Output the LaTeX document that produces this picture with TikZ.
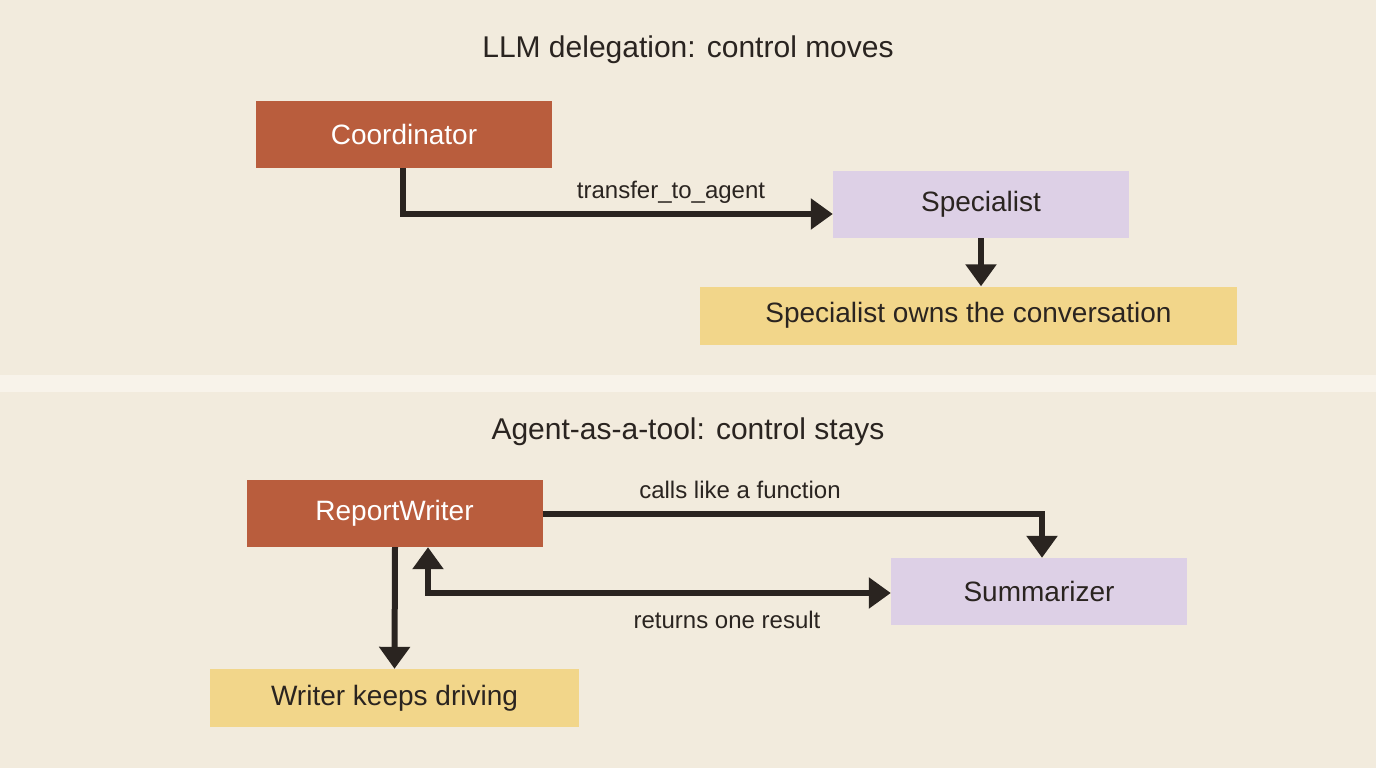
\documentclass[tikz,border=0pt]{standalone}
\usepackage{fontspec}
\setmainfont{Liberation Sans}
\usetikzlibrary{arrows.meta}
\definecolor{bg}{HTML}{F2EBDD}
\definecolor{band}{HTML}{F8F3EA}
\definecolor{org}{HTML}{B95D3D}
\definecolor{lil}{HTML}{DDD0E6}
\definecolor{yel}{HTML}{F2D68A}
\definecolor{ink}{HTML}{2A2420}
\begin{document}
\begin{tikzpicture}[x=1pt,y=-1pt,
  box/.style={minimum width=296pt,minimum height=67pt,inner sep=0pt,font=\fontsize{28}{32}\selectfont},
  agent/.style={box,fill=org,text=white},
  sub/.style={box,fill=lil,text=ink},
  note/.style={inner sep=0pt,minimum height=58pt,fill=yel,text=ink,font=\fontsize{28}{32}\selectfont},
  ttl/.style={font=\fontsize{30}{34}\selectfont,text=ink},
  lbl/.style={font=\fontsize{24}{28}\selectfont,text=ink},
  arr/.style={draw=ink,line width=6pt,-{Triangle[length=22pt,width=30pt]}},
  darr/.style={draw=ink,line width=6pt,{Triangle[length=22pt,width=30pt]}-{Triangle[length=22pt,width=30pt]}}]
\fill[bg] (0,0) rectangle (1376,768);
\fill[band] (0,375) rectangle (1376,392);
\node[ttl] (t1) at (688,50) {LLM delegation: control moves};
\node[ttl] (t2) at (688,432) {Agent-as-a-tool: control stays};
\node[agent] (coord) at (404,134.5) {Coordinator};
\node[sub] (spec) at (981,204.5) {Specialist};
\node[note,minimum width=537pt] (own) at (968.5,315.5) {Specialist owns the conversation};
\node[agent] (rw) at (394.5,513.5) {ReportWriter};
\node[sub] (sum) at (1039,591.5) {Summarizer};
\node[note,minimum width=369pt] (drive) at (394.5,698) {Writer keeps driving};
\draw[arr] (coord.south) ++(-1,0) |- (spec.west|-0,214);
\node[lbl] at (671,192) {transfer\_to\_agent};
\draw[arr] (spec.south) -- (own.north-|spec.south);
\draw[arr] (rw.east) -| (sum.north-|1042,0);
\node[lbl] at (740,490) {calls like a function};
\draw[darr] (sum.west|-0,593) -| (rw.south-|428,0);
\node[lbl] at (727,620) {returns one result};
\draw[arr] (rw.south) ++(0.5,0) -- (drive.north);
\end{tikzpicture}
\end{document}
